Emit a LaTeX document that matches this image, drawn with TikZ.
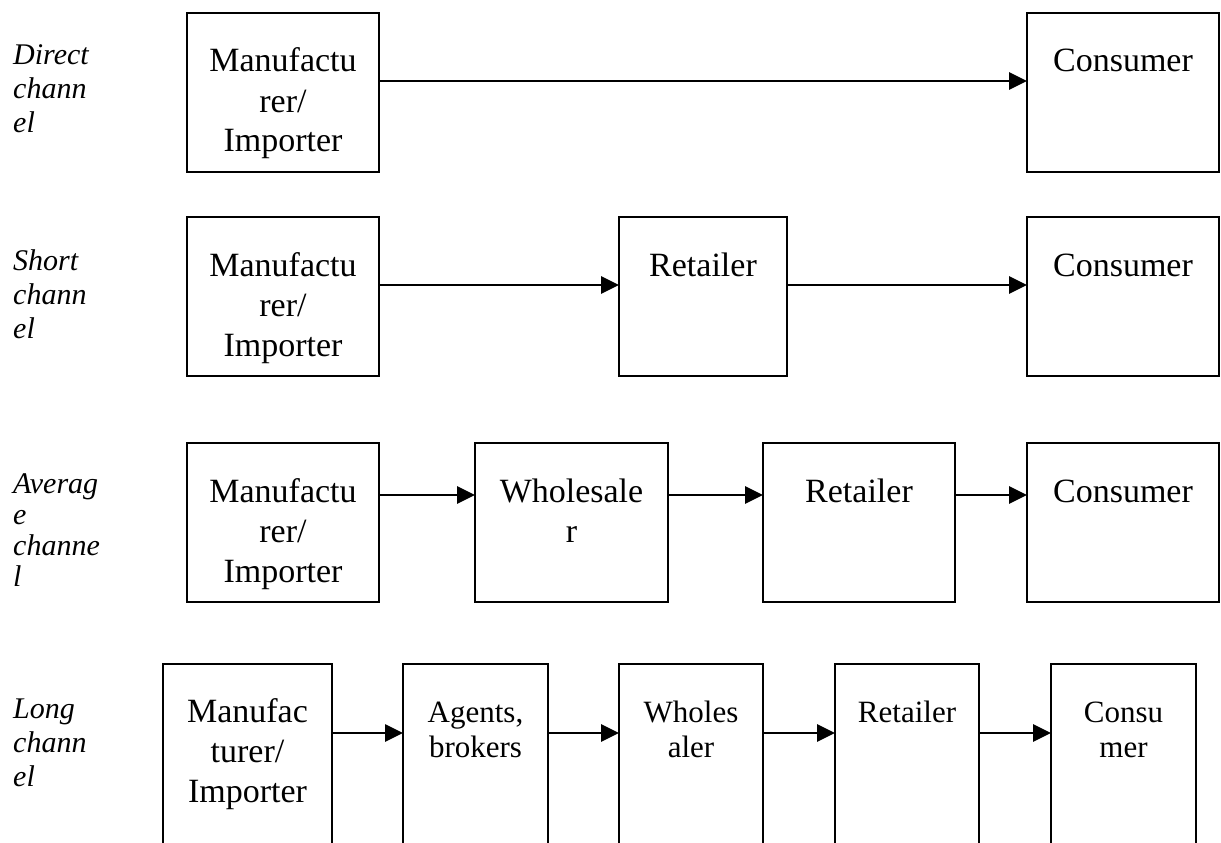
\documentclass[tikz,border=0pt]{standalone}
\usepackage{fontspec}
\setmainfont{Liberation Serif}
\usetikzlibrary{arrows.meta}
\newcommand\bxfont{\fontsize{34}{40}\selectfont}
\newcommand\smfont{\fontsize{31}{35}\selectfont}
\newcommand\lbfont{\fontsize{30}{34}\selectfont\itshape}
\newcommand\lbfontb{\fontsize{30}{31}\selectfont\itshape}
\newcommand\ctr[1]{\parbox[t]{200pt}{\centering #1}}
\begin{document}
\begin{tikzpicture}[x=1pt,y=-1pt,
  box/.style={draw, line width=2.3pt, outer sep=0pt, inner sep=0pt},
  bxt/.style={anchor=base, yshift=-59pt, font=\bxfont, inner sep=0pt},
  bxtl/.style={anchor=base, yshift=-58pt, font=\bxfont, inner sep=0pt},
  smt/.style={anchor=base, yshift=-58pt, font=\smfont, inner sep=0pt},
  lab/.style={anchor=base west, font=\lbfont, inner sep=0pt},
  arr/.style={line width=2.7pt, -{Triangle[length=18pt 0,width=17pt 0]}}]
\useasboundingbox (0,0) rectangle (1221,843);
\clip (0,0) rectangle (1221,843);

% side labels
\node[lab] (t1) at (13,65)  {\parbox[t]{150pt}{\raggedright Direct\\chann\\el}};
\node[lab] (t2) at (13,270) {\parbox[t]{150pt}{\raggedright Short\\chann\\el}};
\node[lab, font=\lbfontb] (t3) at (13,493) {\parbox[t]{150pt}{\raggedright Averag\\e\\channe\\l}};
\node[lab] (t4) at (13,718) {\parbox[t]{150pt}{\raggedright Long\\chann\\el}};

% row 1
\node[box, minimum width=192pt, minimum height=159pt,
  label={[bxt]north:\ctr{Manufactu\\rer/\\Importer}}] (m1) at (283,92.5) {};
\node[box, minimum width=192pt, minimum height=159pt,
  label={[bxt]north:\ctr{Consumer}}] (c1) at (1123,92.5) {};
\draw[arr] ([yshift=11.5pt]m1.east) -- ([yshift=11.5pt]c1.west);

% row 2
\node[box, minimum width=192pt, minimum height=159pt,
  label={[bxt]north:\ctr{Manufactu\\rer/\\Importer}}] (m2) at (283,296.5) {};
\node[box, minimum width=168pt, minimum height=159pt,
  label={[bxt]north:\ctr{Retailer}}] (r2) at (703,296.5) {};
\node[box, minimum width=192pt, minimum height=159pt,
  label={[bxt]north:\ctr{Consumer}}] (c2) at (1123,296.5) {};
\draw[arr] ([yshift=11.5pt]m2.east) -- ([yshift=11.5pt]r2.west);
\draw[arr] ([yshift=11.5pt]r2.east) -- ([yshift=11.5pt]c2.west);

% row 3
\node[box, minimum width=192pt, minimum height=159pt,
  label={[bxt]north:\ctr{Manufactu\\rer/\\Importer}}] (m3) at (283,522.5) {};
\node[box, minimum width=193pt, minimum height=159pt,
  label={[bxt]north:\ctr{Wholesale\\r}}] (w3) at (571.5,522.5) {};
\node[box, minimum width=192pt, minimum height=159pt,
  label={[bxt]north:\ctr{Retailer}}] (r3) at (859,522.5) {};
\node[box, minimum width=192pt, minimum height=159pt,
  label={[bxt]north:\ctr{Consumer}}] (c3) at (1123,522.5) {};
\draw[arr] ([yshift=27.5pt]m3.east) -- ([yshift=27.5pt]w3.west);
\draw[arr] ([yshift=27.5pt]w3.east) -- ([yshift=27.5pt]r3.west);
\draw[arr] ([yshift=27.5pt]r3.east) -- ([yshift=27.5pt]c3.west);

% row 4 (boxes run past the lower edge)
\node[box, minimum width=169pt, minimum height=300pt,
  label={[bxtl]north:\ctr{Manufac\\turer/\\Importer}}] (m4) at (247.5,814) {};
\node[box, minimum width=145pt, minimum height=300pt,
  label={[smt]north:\ctr{Agents,\\brokers}}] (a4) at (475.5,814) {};
\node[box, minimum width=144pt, minimum height=300pt,
  label={[smt]north:\ctr{Wholes\\aler}}] (w4) at (691,814) {};
\node[box, minimum width=144pt, minimum height=300pt,
  label={[smt]north:\ctr{Retailer}}] (r4) at (907,814) {};
\node[box, minimum width=145pt, minimum height=300pt,
  label={[smt]north:\ctr{Consu\\mer}}] (c4) at (1123.5,814) {};
\draw[arr] ([yshift=-69pt]m4.north east) -- ([yshift=-69pt]a4.north west);
\draw[arr] ([yshift=-69pt]a4.north east) -- ([yshift=-69pt]w4.north west);
\draw[arr] ([yshift=-69pt]w4.north east) -- ([yshift=-69pt]r4.north west);
\draw[arr] ([yshift=-69pt]r4.north east) -- ([yshift=-69pt]c4.north west);
\end{tikzpicture}
\end{document}
